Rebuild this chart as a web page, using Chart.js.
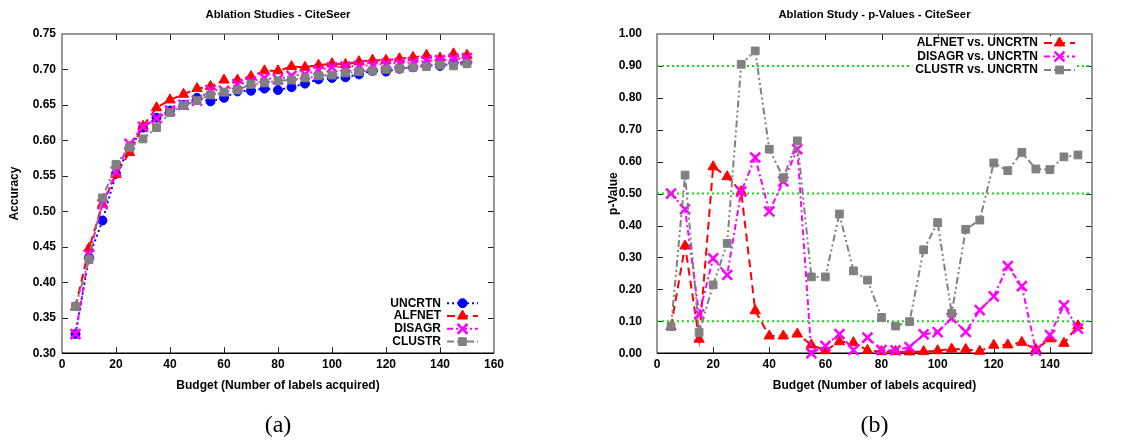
<!DOCTYPE html>
<html>
<head>
<meta charset="utf-8">
<script src="https://cdn.jsdelivr.net/npm/chart.js@4.4.1/dist/chart.umd.min.js"></script>
<style>
  html, body { margin: 0; padding: 0; background: #fff; }
  #wrap { position: relative; width: 1138px; height: 442px; }
  #wrap canvas { position: absolute; top: 0; }
  #accPlot { left: 0; }
  #pvalPlot { left: 569px; }
</style>
</head>
<body>
<div id="wrap">
  <canvas id="accPlot" width="569" height="442"></canvas>
  <canvas id="pvalPlot" width="569" height="442"></canvas>
</div>
<script>
// budget steps (labels acquired)
const budgets = [5, 10, 15, 20, 25, 30, 35, 40, 45, 50, 55, 60, 65, 70, 75,
                 80, 85, 90, 95, 100, 105, 110, 115, 120, 125, 130, 135, 140, 145, 150];

// (a) accuracy per strategy
const acc_uncrtn = [0.327, 0.435, 0.487, 0.553, 0.588, 0.618, 0.632, 0.642, 0.650, 0.660,
                    0.655, 0.660, 0.669, 0.670, 0.673, 0.671, 0.675, 0.680, 0.686, 0.688,
                    0.689, 0.693, 0.698, 0.697, 0.701, 0.703, 0.706, 0.705, 0.709, 0.710];
const acc_alfnet = [0.365, 0.448, 0.510, 0.552, 0.583, 0.620, 0.646, 0.657, 0.665, 0.673,
                    0.676, 0.685, 0.685, 0.690, 0.698, 0.698, 0.704, 0.703, 0.706, 0.708,
                    0.707, 0.711, 0.713, 0.713, 0.715, 0.717, 0.720, 0.716, 0.722, 0.720];
const acc_disagr = [0.327, 0.439, 0.510, 0.556, 0.595, 0.619, 0.631, 0.642, 0.650, 0.656,
                    0.671, 0.670, 0.679, 0.683, 0.688, 0.686, 0.691, 0.693, 0.699, 0.703,
                    0.704, 0.705, 0.706, 0.708, 0.709, 0.710, 0.712, 0.713, 0.715, 0.716];
const acc_clustr = [0.366, 0.432, 0.519, 0.566, 0.590, 0.602, 0.618, 0.639, 0.649, 0.656,
                    0.664, 0.668, 0.671, 0.679, 0.681, 0.684, 0.685, 0.688, 0.691, 0.692,
                    0.695, 0.697, 0.698, 0.700, 0.701, 0.703, 0.704, 0.706, 0.705, 0.708];

// (b) p-values against UNCRTN
const p_alfnet = [0.083, 0.336, 0.044, 0.584, 0.553, 0.506, 0.133, 0.054, 0.054, 0.060,
                  0.026, 0.008, 0.036, 0.033, 0.009, 0.005, 0.005, 0.004, 0.005, 0.008,
                  0.013, 0.012, 0.006, 0.025, 0.026, 0.034, 0.012, 0.045, 0.031, 0.086];
const p_disagr = [0.500, 0.451, 0.122, 0.297, 0.245, 0.506, 0.613, 0.444, 0.538, 0.639,
                  0.000, 0.023, 0.060, 0.010, 0.049, 0.010, 0.009, 0.019, 0.059, 0.066,
                  0.110, 0.067, 0.135, 0.178, 0.273, 0.210, 0.008, 0.057, 0.150, 0.077];
const p_clustr = [0.083, 0.558, 0.065, 0.214, 0.344, 0.905, 0.947, 0.639, 0.550, 0.665,
                  0.239, 0.239, 0.436, 0.258, 0.229, 0.112, 0.085, 0.099, 0.324, 0.409,
                  0.125, 0.388, 0.417, 0.596, 0.572, 0.629, 0.577, 0.575, 0.615, 0.621];

// significance levels drawn as dotted green lines
const p_levels = [0.1, 0.5, 0.9];

const sans = '"Liberation Sans", Arial, Helvetica, sans-serif';
const black = '#000';

function series(label, values, color, dash, pointStyle, radius, order, pointBorder) {
    return {
        label: label,
        data: values.map((v, i) => ({ x: budgets[i], y: v })),
        borderColor: color,
        backgroundColor: color,
        borderWidth: 2,
        borderDash: dash,
        pointStyle: pointStyle,
        pointRadius: radius,
        pointBackgroundColor: color,
        pointBorderColor: color,
        pointBorderWidth: pointBorder || 1,
        tension: 0,
        clip: 10,
        order: order
    };
}

// gnuplot-like frame with tick marks pointing inwards on all four sides
const gnuFrame = {
    id: 'gnuFrame',
    beforeDatasetsDraw(chart) {
        const { ctx, chartArea: a, scales } = chart;
        const len = 6;
        ctx.save();
        ctx.strokeStyle = '#222';
        ctx.lineWidth = 1;
        ctx.beginPath();
        scales.x.ticks.forEach(t => {
            const px = Math.round(scales.x.getPixelForValue(t.value)) + 0.5;
            if (px <= a.left + 2 || px >= a.right - 2) return;
            ctx.moveTo(px, a.bottom); ctx.lineTo(px, a.bottom - len);
            ctx.moveTo(px, a.top); ctx.lineTo(px, a.top + len);
        });
        scales.y.ticks.forEach(t => {
            const py = Math.round(scales.y.getPixelForValue(t.value)) + 0.5;
            if (py <= a.top + 2 || py >= a.bottom - 2) return;
            ctx.moveTo(a.left, py); ctx.lineTo(a.left + len, py);
            ctx.moveTo(a.right, py); ctx.lineTo(a.right - len, py);
        });
        ctx.stroke();
        ctx.strokeStyle = '#777';
        ctx.lineWidth = 1.5;
        ctx.beginPath();
        ctx.moveTo(a.left, a.bottom); ctx.lineTo(a.left, a.top);
        ctx.lineTo(a.right, a.top); ctx.lineTo(a.right, a.bottom);
        ctx.stroke();
        ctx.strokeStyle = black;
        ctx.beginPath();
        ctx.moveTo(a.left, a.bottom); ctx.lineTo(a.right, a.bottom);
        ctx.stroke();
        ctx.restore();
    }
};

// key: right-aligned label followed by a line sample with its marker
const gnuKey = {
    id: 'gnuKey',
    afterDatasetsDraw(chart, args, opts) {
        const { ctx, chartArea: a } = chart;
        const items = chart.data.datasets.filter(d => d.label);
        const textRight = a.right - opts.right;
        const x0 = textRight + 6, x1 = textRight + 37;
        const y0 = opts.top != null ? a.top + opts.top : a.bottom - opts.bottom;
        ctx.save();
        ctx.font = 'bold 12px ' + sans;
        ctx.textAlign = 'right';
        ctx.textBaseline = 'middle';
        if (opts.opaque) {
            const w = Math.max(...items.map(d => ctx.measureText(d.label).width));
            ctx.fillStyle = '#fff';
            ctx.fillRect(textRight - w - 3, y0 - opts.gap / 2,
                         x1 - textRight + w + 5, opts.gap * items.length);
        }
        items.forEach((ds, i) => {
            const y = y0 + i * opts.gap;
            ctx.fillStyle = black;
            ctx.fillText(ds.label, textRight, y);
            ctx.strokeStyle = ds.borderColor;
            ctx.lineWidth = ds.borderWidth;
            ctx.setLineDash(ds.borderDash || []);
            ctx.beginPath();
            ctx.moveTo(x0, y); ctx.lineTo(x1, y);
            ctx.stroke();
            ctx.setLineDash([]);
            ctx.fillStyle = ds.pointBackgroundColor;
            ctx.strokeStyle = ds.pointBorderColor;
            ctx.lineWidth = ds.pointBorderWidth;
            Chart.helpers.drawPoint(ctx, {
                pointStyle: ds.pointStyle, radius: ds.pointRadius,
                rotation: 0, borderWidth: ds.pointBorderWidth
            }, (x0 + x1) / 2, y);
        });
        ctx.restore();
    }
};

function baseOptions(o) {
    return {
        responsive: false,
        animation: false,
        events: [],
        layout: { padding: { left: o.padLeft, right: o.padRight, top: 0, bottom: 0 } },
        plugins: {
            legend: { display: false },
            tooltip: { enabled: false },
            title: {
                display: true, text: o.title, fullSize: false, color: black,
                font: { family: sans, size: 11.3, weight: 'bold' },
                padding: { top: 8, bottom: 12.4 }
            },
            subtitle: {
                display: true, position: 'bottom', text: o.caption, fullSize: false, color: black,
                font: { family: '"Liberation Serif", "DejaVu Serif", serif', size: 24, weight: 'normal' },
                padding: { top: 10, bottom: 2 }
            },
            gnuKey: o.key
        },
        scales: {
            x: {
                type: 'linear', min: 0, max: o.xMax,
                afterFit(s) { s.height = 48; },
                grid: { display: false, drawTicks: false }, border: { display: false },
                ticks: {
                    stepSize: 20, includeBounds: false, padding: 4, color: black,
                    font: { family: sans, size: 12, weight: 'bold' }
                },
                title: {
                    display: true, text: 'Budget (Number of labels acquired)', color: black,
                    font: { family: sans, size: 12, weight: 'bold' },
                    padding: { top: 0, bottom: 8 }
                }
            },
            y: {
                type: 'linear', min: o.yMin, max: o.yMax,
                afterFit(s) { s.width = o.yWidth; },
                grid: { display: false, drawTicks: false }, border: { display: false },
                ticks: {
                    stepSize: o.yStep, padding: o.yPad, color: black,
                    font: { family: sans, size: 12, weight: 'bold' },
                    callback: v => v.toFixed(2)
                },
                title: {
                    display: true, text: o.yTitle, color: black,
                    font: { family: sans, size: 12, weight: 'bold' },
                    padding: { top: 7, bottom: 0 }
                }
            }
        }
    };
}

new Chart(document.getElementById('accPlot'), {
    type: 'line',
    data: {
        datasets: [
            series('UNCRTN', acc_uncrtn, '#0000ff', [2, 3], 'circle', 4.5, 4),
            series('ALFNET', acc_alfnet, '#ff0000', [8, 5], 'triangle', 6, 3),
            series('DISAGR', acc_disagr, '#ff00ff', [6, 3, 2, 3], 'crossRot', 7, 2, 2.5),
            series('CLUSTR', acc_clustr, '#808080', [7, 3, 2, 3, 2, 3], 'rect', 5.5, 1)
        ]
    },
    options: baseOptions({
        padLeft: 0, padRight: 75, yWidth: 62, yPad: 6,
        title: 'Ablation Studies - CiteSeer', caption: '(a)',
        xMax: 160, yMin: 0.3, yMax: 0.75, yStep: 0.05, yTitle: 'Accuracy',
        key: { right: 53, bottom: 50, gap: 12.8 }
    }),
    plugins: [gnuFrame, gnuKey]
});

const levelLines = p_levels.map(p => ({
    label: '',
    data: [{ x: 0, y: p }, { x: 155, y: p }],
    borderColor: '#11dd11',
    borderWidth: 2,
    borderDash: [2, 3],
    pointRadius: 0,
    order: 10
}));

new Chart(document.getElementById('pvalPlot'), {
    type: 'line',
    data: {
        datasets: [
            series('ALFNET vs. UNCRTN', p_alfnet, '#ff0000', [8, 5], 'triangle', 6, 3),
            series('DISAGR vs. UNCRTN', p_disagr, '#ff00ff', [6, 3, 2, 3], 'crossRot', 7, 2, 2.5),
            series('CLUSTR vs. UNCRTN', p_clustr, '#808080', [7, 3, 2, 3, 2, 3], 'rect', 5.5, 1),
            ...levelLines
        ]
    },
    options: baseOptions({
        padLeft: 30, padRight: 46, yWidth: 58, yPad: 15,
        title: 'Ablation Study - p-Values - CiteSeer', caption: '(b)',
        xMax: 155, yMin: 0, yMax: 1, yStep: 0.1, yTitle: 'p-Value',
        key: { right: 54, top: 9, gap: 13.5, opaque: true }
    }),
    plugins: [gnuFrame, gnuKey]
});
</script>
</body>
</html>
